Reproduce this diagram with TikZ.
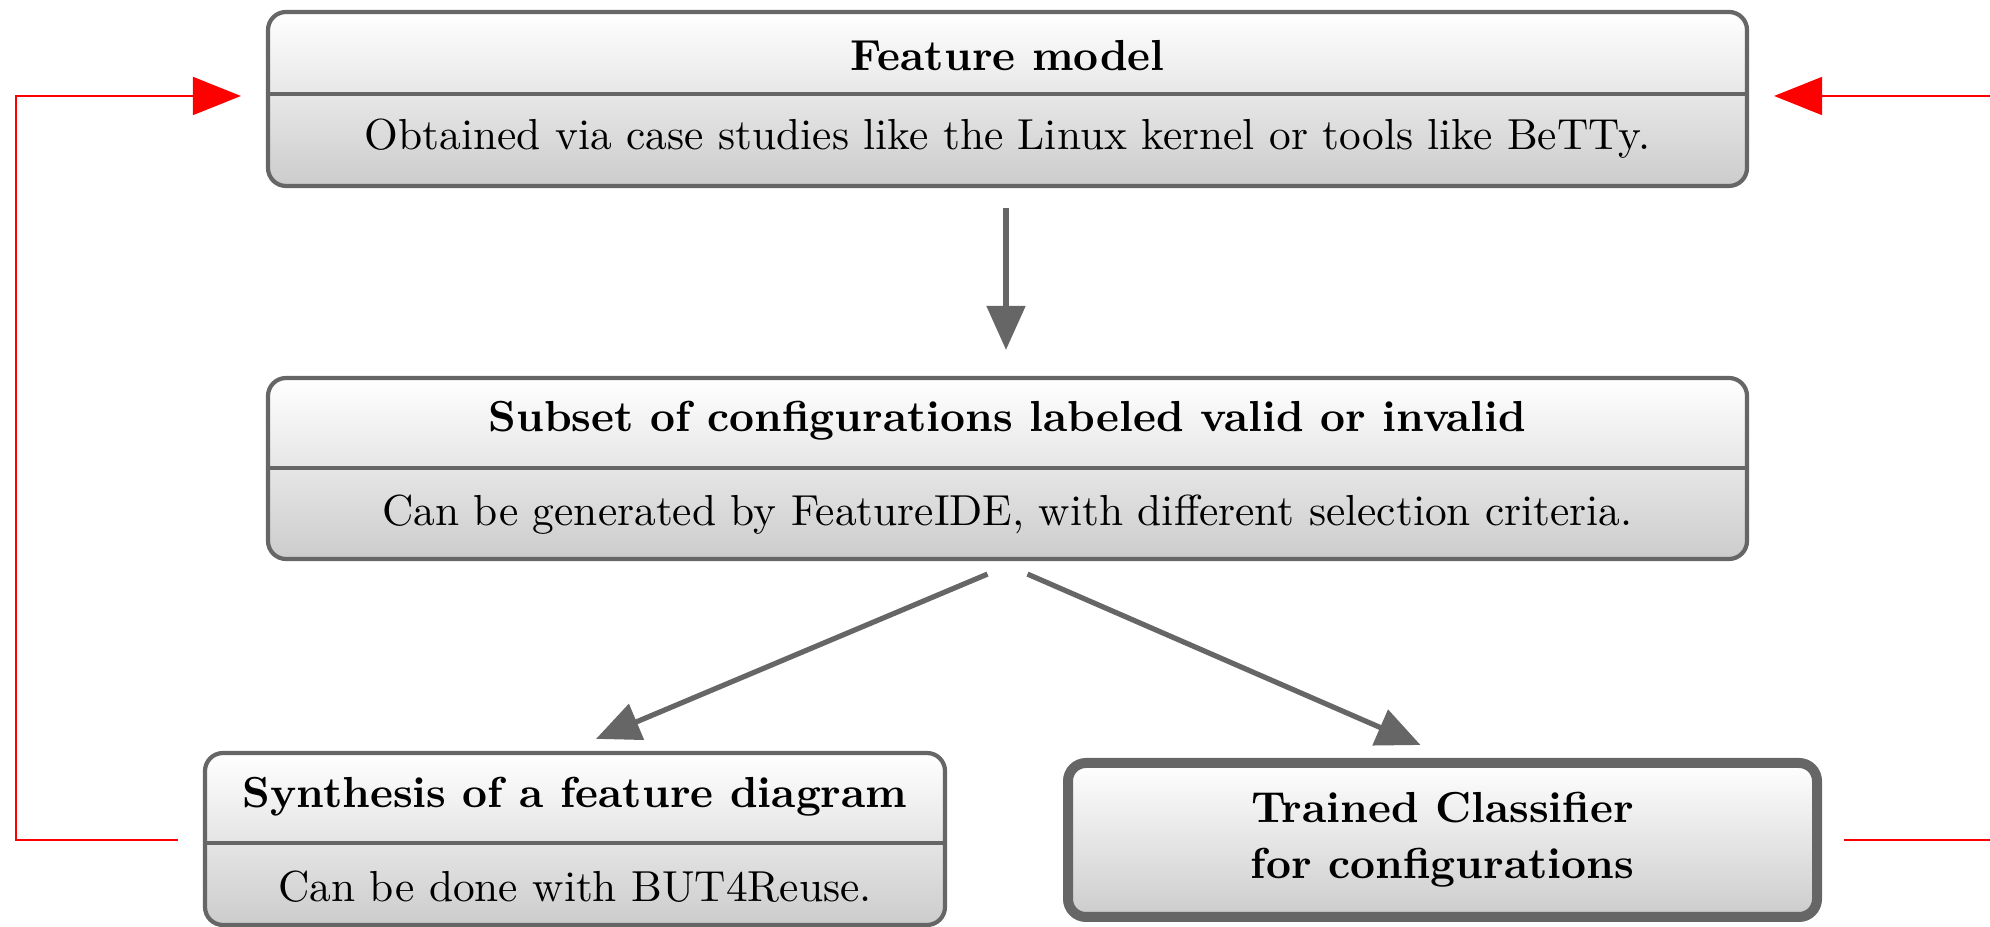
\documentclass[tikz,border=0pt]{standalone}
\usetikzlibrary{arrows.meta,calc}
\definecolor{boxgray}{gray}{0.4}
\newcommand{\figsize}{\fontsize{10.85}{13.6}\selectfont}
\tikzset{
  x=0.25pt, y=-0.25pt,
  boxbase/.style={draw=boxgray, rounded corners=4.5pt, top color=white, bottom color=black!20, inner sep=0pt},
  stage/.style={boxbase, line width=1.05pt},
  final/.style={boxbase, line width=2.5pt},
  divider/.style={draw=boxgray, line width=1.05pt},
  ttl/.style={font=\figsize\bfseries, inner sep=0pt, align=center},
  dsc/.style={font=\figsize, inner sep=0pt},
  garrow/.style={draw=boxgray, line width=1.3pt, -{Triangle[length=11pt,width=9.5pt]}},
  rarrow/.style={draw=red, line width=0.45pt, -{Triangle[length=12pt,width=9.5pt]}},
}
\begin{document}
\begin{tikzpicture}
\useasboundingbox (0,0) rectangle (1990,927);
% top box
\node[stage, minimum width=369.75pt, minimum height=43.5pt] (fm) at (1007.5,99) {};
\draw[divider] (fm.west |- 0,94) -- (fm.east |- 0,94);
\node[ttl] (fmt) at (1007.5,56) {Feature model};
\node[dsc] (fmd) at (1007.5,139) {Obtained via case studies like the Linux kernel or tools like BeTTy.};
% middle box
\node[stage, minimum width=369.75pt, minimum height=45.25pt] (sub) at (1007.5,468.5) {};
\draw[divider] (sub.west |- 0,468) -- (sub.east |- 0,468);
\node[ttl] (subt) at (1007.5,421) {Subset of configurations labeled valid or invalid};
\node[dsc] (subd) at (1007.5,515) {Can be generated by FeatureIDE, with different selection criteria.};
% bottom left
\node[stage, minimum width=185pt, minimum height=43pt] (syn) at (575,839) {};
\draw[divider] (syn.west |- 0,843) -- (syn.east |- 0,843);
\node[ttl] (synt) at (575,797) {Synthesis of a feature diagram};
\node[dsc] (synd) at (575,887) {Can be done with BUT4Reuse.};
% bottom right
\node[final, minimum width=187.25pt, minimum height=38.5pt] (cls) at (1442.5,840) {};
\node[ttl] (clst) at (1442.5,840) {Trained Classifier\\[0.4pt]for configurations};
% arrows
\draw[garrow, shorten <=5pt, shorten >=6.5pt] (fm.south -| 1006,0) -- (sub.north -| 1006,0);
\coordinate (s1) at ($(sub.south)+(-20,13)$);
\coordinate (s2) at ($(sub.south)+(20,13)$);
\coordinate (e1) at ($(syn.north)+(21,-12)$);
\coordinate (e2) at ($(cls.north)+(-22,-13)$);
\draw[garrow] (s1) -- (e1);
\draw[garrow] (s2) -- (e2);
% red feedback
\draw[rarrow] ($(syn.west)+(-25,1)$) -- (16,840) -- (16,96) -- ($(fm.west)+(-25,-3)$);
\draw[rarrow] ($(cls.east)+(22,0)$) -- (2010,840) -- (2010,96) -- ($(fm.east)+(25,-3)$);
\end{tikzpicture}
\end{document}
